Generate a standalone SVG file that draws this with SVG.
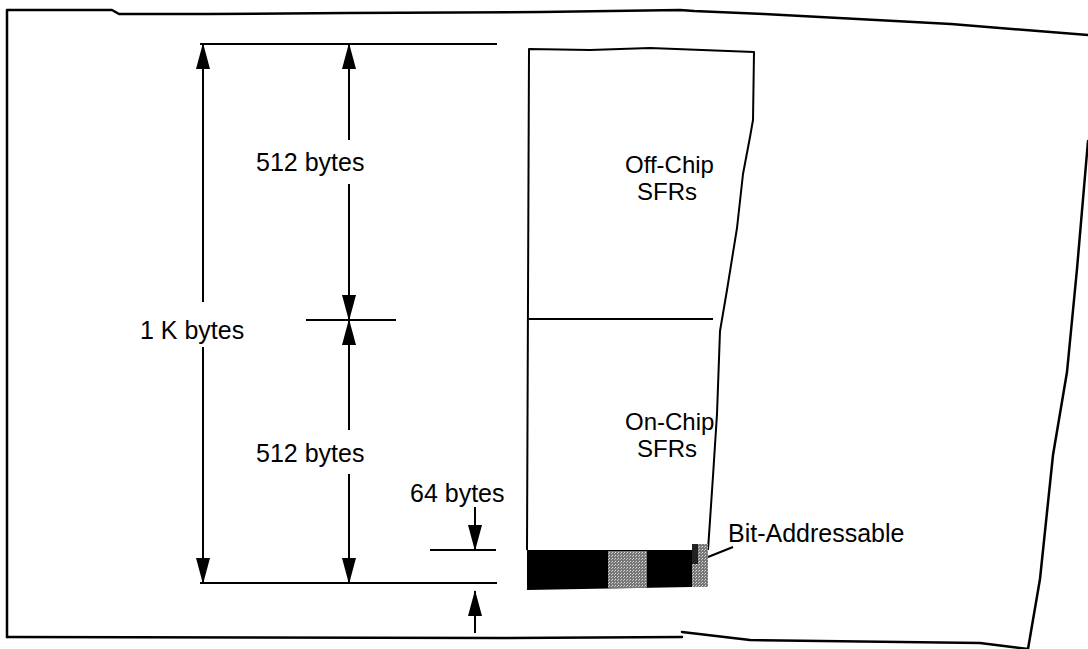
<svg xmlns="http://www.w3.org/2000/svg" width="1088" height="649" viewBox="0 0 1088 649">
<style>
.b{fill:none;stroke:#000;stroke-width:2.5;stroke-linejoin:round;stroke-linecap:round}
.m{fill:none;stroke:#000;stroke-width:2;stroke-linejoin:round}
.d{fill:none;stroke:#000;stroke-width:2}
text{font-family:"Liberation Sans",Arial,Helvetica,sans-serif;font-size:25px;fill:#000}
.s{font-size:24px}
</style>
<defs>
<marker id="ah" markerWidth="26" markerHeight="14" refX="25" refY="7" orient="auto" markerUnits="userSpaceOnUse"><path d="M0,0 L26,7 L0,14 Z" fill="#000"/></marker>
<pattern id="dots" width="3" height="3" patternUnits="userSpaceOnUse"><rect width="3" height="3" fill="#777"/><rect width="1" height="1" fill="#ddd"/><rect x="2" y="1" width="1" height="1" fill="#bbb"/></pattern>
</defs>
<rect width="1088" height="649" fill="#fff"/>
<g id="frame">
<path class="b" d="M7,637 L7,10 L112,10 L119,14 L208,14 L347,13 L541,12 L680,10 L694,11 L764,14 L951,24 L1088,35"/>
<path class="b" d="M1088,141 L1077,269 L1067,372 L1053,455 L1040,579 L1028,649"/>
<path class="b" d="M7,637 L500,638 L682,637"/>
<path class="b" d="M682,632 L750,640 L980,643 L1028,649"/>
</g>
<g id="memory">
<path class="m" d="M527,550 L529,49 L590,50 L650,48 L754,52 L753,120 L750,137 L743,174 L737,228 L727,290 L720,331 L717,414 L713,476 L708,550"/>
<line class="m" x1="529" y1="319" x2="713" y2="319"/>
<text class="s" x="625" y="173">Off-Chip</text>
<text class="s" x="637" y="200">SFRs</text>
<text class="s" x="625" y="430">On-Chip</text>
<text class="s" x="637" y="457">SFRs</text>
</g>
<g id="bit-addressable">
<path d="M527,550 L692,550 L692,587 L527,590 Z" fill="#000"/>
<rect x="608" y="551" width="39" height="37" fill="url(#dots)"/>
<rect x="692" y="544" width="16" height="43" fill="url(#dots)"/>
<rect x="692" y="544" width="6" height="20" fill="#222"/>
<line class="d" x1="708" y1="557" x2="733" y2="547"/>
<text x="728" y="542">Bit-Addressable</text>
</g>
<g id="connectors">
<line class="d" x1="200" y1="44" x2="497" y2="44"/>
<line class="d" x1="200" y1="583" x2="497" y2="583"/>
<line class="d" x1="306" y1="320" x2="396" y2="320"/>
<line class="d" x1="430" y1="550" x2="496" y2="550"/>
<line class="d" x1="203" y1="302" x2="203" y2="44" marker-end="url(#ah)"/>
<line class="d" x1="203" y1="347" x2="203" y2="583" marker-end="url(#ah)"/>
<line class="d" x1="349" y1="140" x2="349" y2="44" marker-end="url(#ah)"/>
<line class="d" x1="349" y1="184" x2="349" y2="320" marker-end="url(#ah)"/>
<line class="d" x1="349" y1="430" x2="349" y2="320" marker-end="url(#ah)"/>
<line class="d" x1="349" y1="474" x2="349" y2="583" marker-end="url(#ah)"/>
<line class="d" x1="475" y1="507" x2="475" y2="550" marker-end="url(#ah)"/>
<line class="d" x1="475" y1="633" x2="475" y2="591" marker-end="url(#ah)"/>
</g>
<g id="labels">
<text x="140" y="339">1 K bytes</text>
<text x="256" y="171">512 bytes</text>
<text x="256" y="462">512 bytes</text>
<text x="410" y="502">64 bytes</text>
</g>
</svg>
